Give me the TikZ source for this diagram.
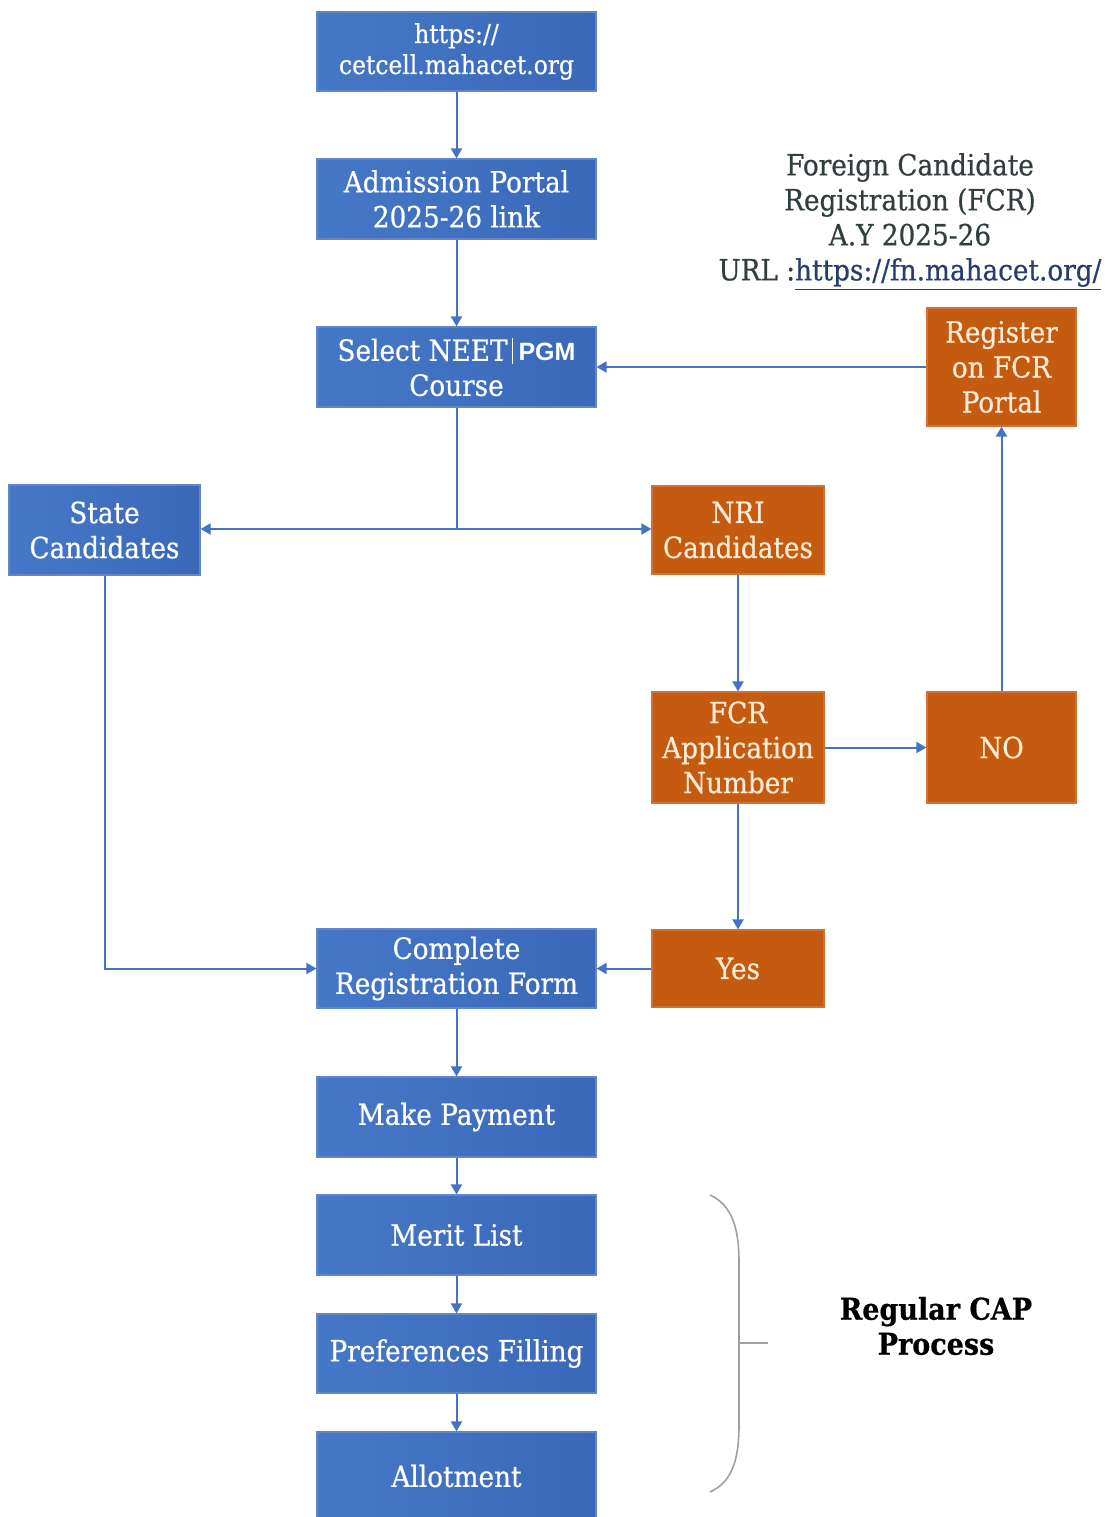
\documentclass[tikz,border=0pt]{standalone}
\usepackage{fontspec}
\setmainfont{DejaVu Serif}[FakeStretch=0.9,FakeBold=0.6]
\newfontfamily\pgmfont{Liberation Sans}
\usetikzlibrary{arrows.meta}
\definecolor{boxblue}{RGB}{59,104,184}
\definecolor{boxblueL}{RGB}{70,120,200}
\definecolor{boxorange}{RGB}{197,90,17}
\definecolor{cream}{RGB}{253,236,214}
\definecolor{linkblue}{RGB}{68,114,196}
\definecolor{fcrtext}{RGB}{48,62,62}
\definecolor{urlblue}{RGB}{40,60,110}
\definecolor{bracegray}{RGB}{160,160,160}
\tikzset{
  txt/.style={font=\fontsize{14.6}{17.5}\selectfont, align=center, inner sep=0pt},
  bluebox/.style={txt, rectangle, left color=boxblueL, right color=boxblue, draw=boxblue!80!white, line width=0.6pt, text=white},
  orangebox/.style={txt, rectangle, fill=boxorange, draw=boxorange!85!white, line width=0.6pt, text=cream},
  arr/.style={draw=linkblue, line width=1pt, -{Triangle[length=5pt,width=5.5pt]}},
  plain/.style={draw=linkblue, line width=1pt},
}
\begin{document}
\begin{tikzpicture}[x=0.5pt,y=-0.5pt]
\useasboundingbox (0,0) rectangle (1108,1517);
% blue column
\node[bluebox, minimum width=139.5pt, minimum height=39.5pt, font=\fontsize{13}{15.5}\selectfont] (url) at (456.5,51.5) {https://\\cetcell.mahacet.org};
\node[bluebox, minimum width=139.5pt, minimum height=40pt] (adm) at (456.5,199) {Admission Portal\\2025-26 link};
\node[bluebox, minimum width=139.5pt, minimum height=40pt] (sel) at (456.5,367) {Select NEET\hspace{2pt}\rule[-1.5pt]{0.5pt}{13pt}\hspace{3pt}{\pgmfont\bfseries\fontsize{12.5}{17.5}\selectfont PGM}\\Course};
\node[bluebox, minimum width=95.5pt, minimum height=45pt] (state) at (104.5,530) {State\\Candidates};
\node[bluebox, minimum width=139.5pt, minimum height=39.5pt] (comp) at (456.5,968.5) {Complete\\Registration Form};
\node[bluebox, minimum width=139.5pt, minimum height=40pt] (pay) at (456.5,1117) {Make Payment};
\node[bluebox, minimum width=139.5pt, minimum height=40pt] (merit) at (456.5,1235) {Merit List};
\node[bluebox, minimum width=139.5pt, minimum height=39.5pt] (pref) at (456.5,1353.5) {Preferences Filling};
\node[bluebox, minimum width=139.5pt, minimum height=44pt] (allot) at (456.5,1476) {Allotment};
% orange column
\node[orangebox, minimum width=86pt, minimum height=44pt] (nri) at (738,530) {NRI\\Candidates};
\node[orangebox, minimum width=86pt, minimum height=55.5pt] (fcr) at (738,747.5) {FCR\\Application\\Number};
\node[orangebox, minimum width=86pt, minimum height=38.5pt] (yes) at (738,968.5) {Yes};
\node[orangebox, minimum width=74.5pt, minimum height=55.5pt] (no) at (1001.5,747.5) {NO};
\node[orangebox, minimum width=74.5pt, minimum height=59pt] (reg) at (1001.5,367) {Register\\on FCR\\Portal};
% FCR caption
\node[txt, text=fcrtext] (fcrcap) at (910,222) {Foreign Candidate\\Registration (FCR)\\A.Y 2025-26\\URL :{\color{urlblue}\underline{https://fn.mahacet.org/}}};
% Regular CAP
\node[txt, font=\fontsize{15}{17.5}\selectfont\bfseries, text=black] (cap) at (936,1326) {Regular CAP\\Process};
% connectors
\coordinate (j) at (456.5,529);
\draw[arr] (url) -- (adm);
\draw[arr] (adm) -- (sel);
\draw[plain] (sel.south) -- (j);
\draw[arr] (j) -- (state.east |- j);
\draw[arr] (j) -- (nri.west |- j);
\draw[arr] (state.south) |- (comp.west);
\draw[arr] (nri) -- (fcr);
\draw[arr] (fcr) -- (no);
\draw[arr] (no) -- (reg);
\draw[arr] (reg.west) -- (sel.east);
\draw[arr] (fcr) -- (yes);
\draw[arr] (yes) -- (comp);
\draw[arr] (comp) -- (pay);
\draw[arr] (pay) -- (merit);
\draw[arr] (merit) -- (pref);
\draw[arr] (pref) -- (allot);
% brace
\coordinate (bt) at (710,1195);
\coordinate (bm) at (739,1343);
\coordinate (bb) at (710,1492);
\coordinate (tick) at (768,1343);
\draw[bracegray, line width=0.8pt] (bt) .. controls (732,1205) and (739,1228) .. (739,1262) -- (739,1425) .. controls (739,1460) and (732,1482) .. (bb);
\draw[bracegray, line width=0.8pt] (bm) -- (tick);
\end{tikzpicture}
\end{document}
